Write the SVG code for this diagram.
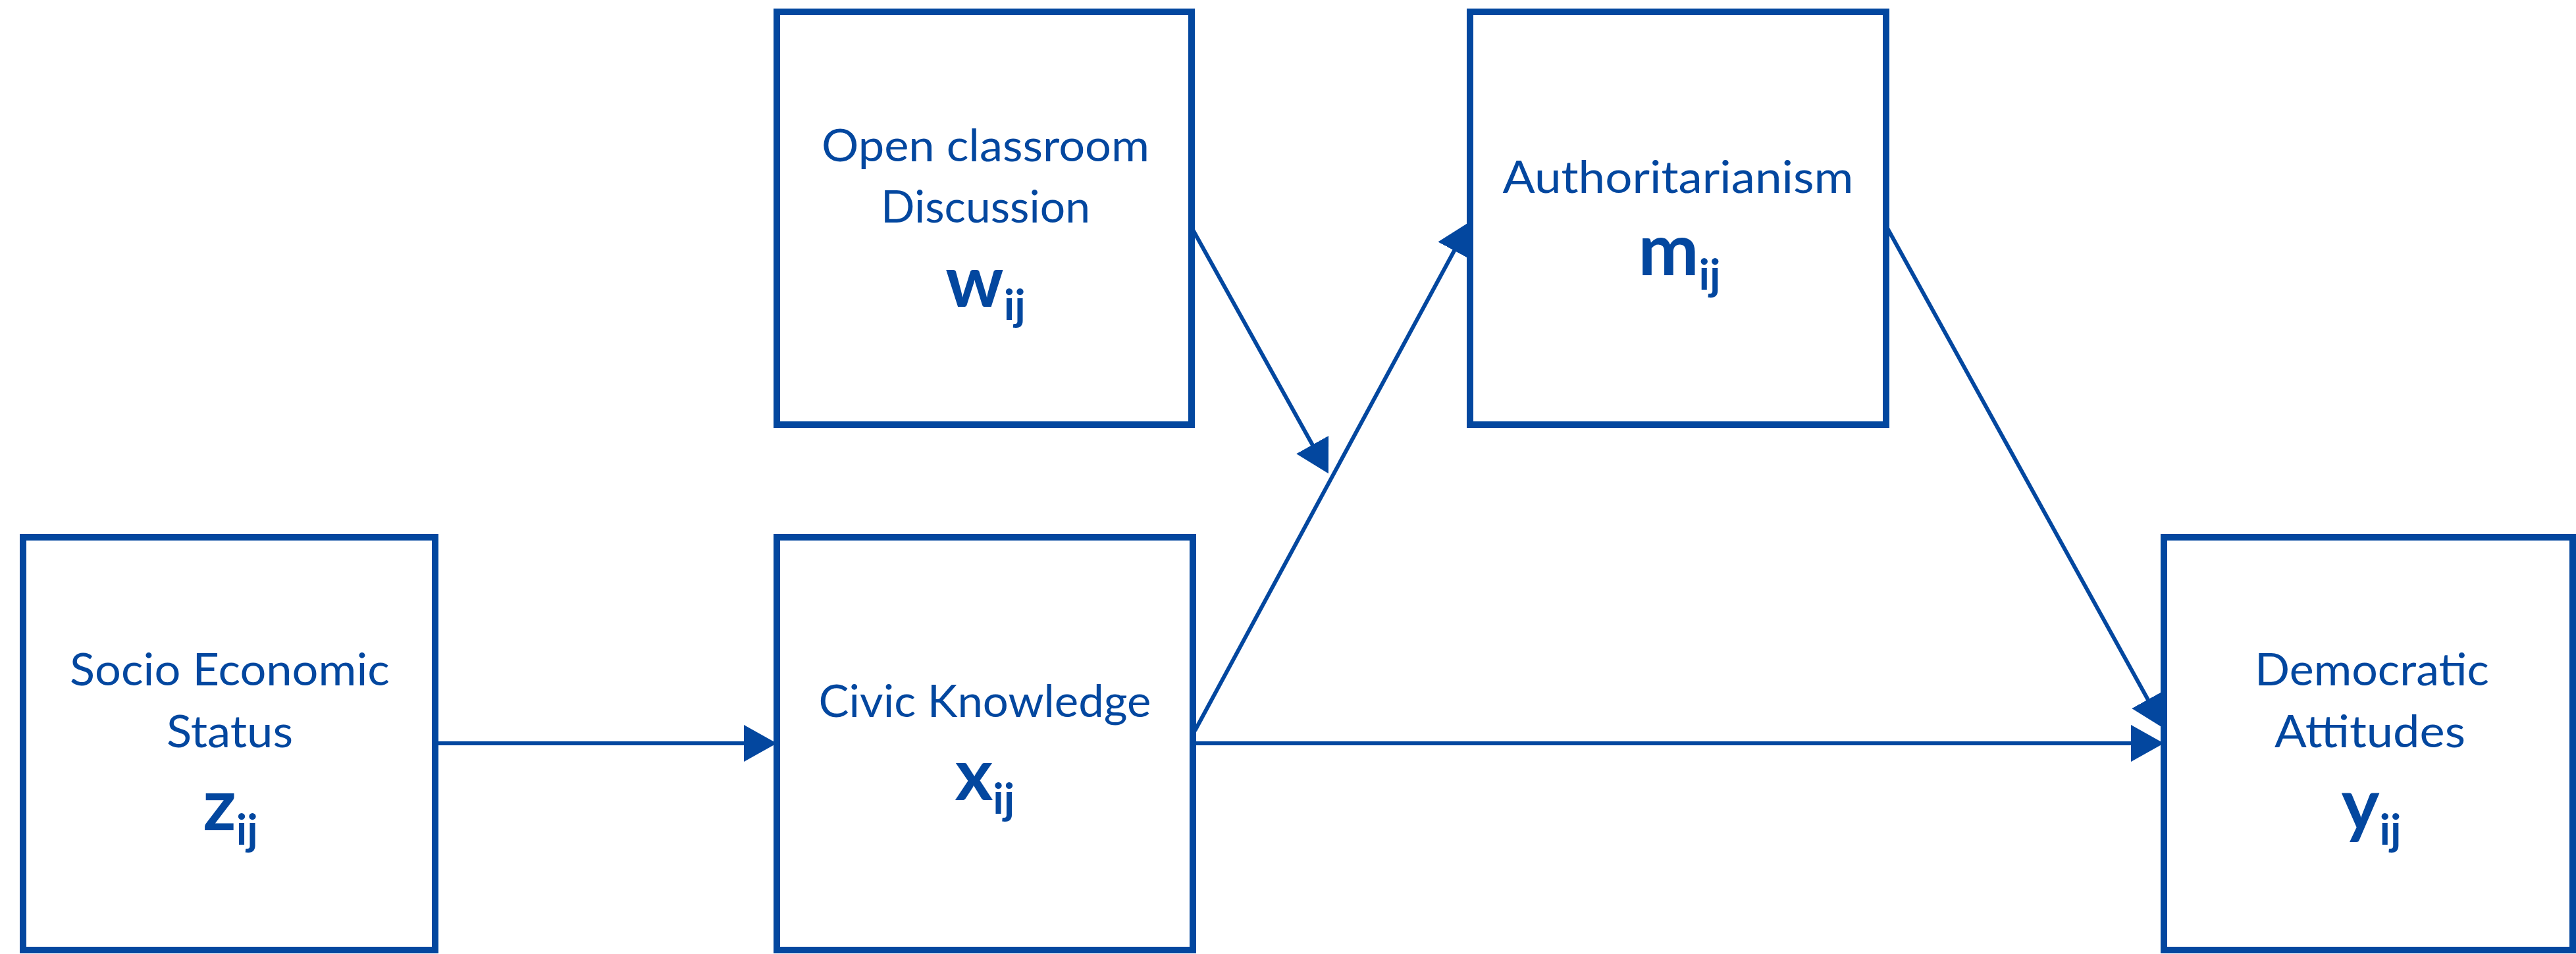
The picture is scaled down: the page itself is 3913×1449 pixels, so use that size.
<svg xmlns="http://www.w3.org/2000/svg" width="3913" height="1449" viewBox="0 0 3913 1449">
<style>
.box{fill:#ffffff;stroke:#03479F;stroke-width:10}
.lbl{font-family:Lato,"Liberation Sans",sans-serif;font-size:67px;fill:#03479F;text-anchor:middle}
.var{font-family:Lato,"Liberation Sans",sans-serif;font-weight:bold;font-size:110px;fill:#03479F;text-anchor:middle}
.sub{font-size:65px}
.conn{stroke:#03479F;stroke-width:6;fill:none}
</style>
<defs>
<marker id="ah" viewBox="0 0 50 56" refX="44" refY="28" markerWidth="50" markerHeight="56" markerUnits="userSpaceOnUse" orient="auto">
<path d="M0,0 L50,28 L0,56 Z" fill="#03479F"/>
</marker>
</defs>
<rect width="3913" height="1449" fill="#ffffff"/>
<g id="connectors">
<line class="conn" x1="663" y1="1129" x2="1174" y2="1129" marker-end="url(#ah)"/>
<line class="conn" x1="1812" y1="1129" x2="3281" y2="1129" marker-end="url(#ah)"/>
<line class="conn" x1="1815" y1="1110" x2="2230" y2="342" marker-end="url(#ah)"/>
<line class="conn" x1="1812" y1="349" x2="2015" y2="714" marker-end="url(#ah)"/>
<line class="conn" x1="2865" y1="343" x2="3284" y2="1101" marker-end="url(#ah)"/>
</g>
<g id="node-open-classroom">
<rect class="box" x="1180" y="18" width="630" height="627"/>
<text class="lbl" x="1497" y="245" textLength="498" lengthAdjust="spacingAndGlyphs">Open classroom</text>
<text class="lbl" x="1497" y="338" textLength="318" lengthAdjust="spacingAndGlyphs">Discussion</text>
<text class="var" x="1497" y="466">w<tspan class="sub" dy="20">ij</tspan></text>
</g>
<g id="node-authoritarianism">
<rect class="box" x="2233" y="18" width="632" height="627"/>
<text class="lbl" x="2549" y="293" textLength="533" lengthAdjust="spacingAndGlyphs">Authoritarianism</text>
<text class="var" x="2551" y="418">m<tspan class="sub" dy="22">ij</tspan></text>
</g>
<g id="node-ses">
<rect class="box" x="35" y="816" width="626" height="627"/>
<text class="lbl" x="349" y="1041" textLength="486" lengthAdjust="spacingAndGlyphs">Socio Economic</text>
<text class="lbl" x="349" y="1135" textLength="192" lengthAdjust="spacingAndGlyphs">Status</text>
<text class="var" x="350" y="1261">z<tspan class="sub" dy="22">ij</tspan></text>
</g>
<g id="node-civic-knowledge">
<rect class="box" x="1180" y="816" width="632" height="627"/>
<text class="lbl" x="1496" y="1089" textLength="505" lengthAdjust="spacingAndGlyphs">Civic Knowledge</text>
<text class="var" x="1496" y="1215">x<tspan class="sub" dy="21">ij</tspan></text>
</g>
<g id="node-democratic-attitudes">
<rect class="box" x="3287" y="816" width="621" height="627"/>
<text class="lbl" x="3603" y="1041" textLength="356" lengthAdjust="spacingAndGlyphs">Democratic</text>
<text class="lbl" x="3600" y="1135" textLength="290" lengthAdjust="spacingAndGlyphs">Attitudes</text>
<text class="var" x="3602" y="1261">y<tspan class="sub" dy="22">ij</tspan></text>
</g>
</svg>
